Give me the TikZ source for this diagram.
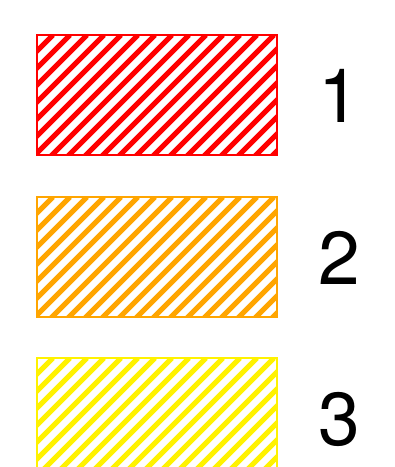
\documentclass[tikz,border=0pt]{standalone}
\usepackage{fontspec}
\setmainfont{TeX Gyre Heros}
\definecolor{amber}{RGB}{255,165,0}
\tikzset{
  hatchline/.style={line width=5pt},
  boxframe/.style={line width=2pt},
  numlabel/.style={font=\fontsize{75}{75}\selectfont, inner sep=0pt}
}
\begin{document}
\begin{tikzpicture}[x=1pt,y=-1pt]
  \useasboundingbox (0,0) rectangle (395,467);

  % riquadri tratteggiati
  \foreach \col/\top/\lab in {red/35/1, amber/197/2, yellow/358/3} {
    \begin{scope}
      \clip (37,\top) rectangle (277,\top+120);
      \foreach \a in {-111,-94,...,290}
        \draw[\col, hatchline] (\a,\top+130) -- (\a+130,\top);
    \end{scope}
    \draw[\col, boxframe] (37,\top) rectangle (277,\top+120);

    % etichette
    \node[numlabel] (lab\lab) at (339,\top+61) {\lab};
  }
\end{tikzpicture}
\end{document}
